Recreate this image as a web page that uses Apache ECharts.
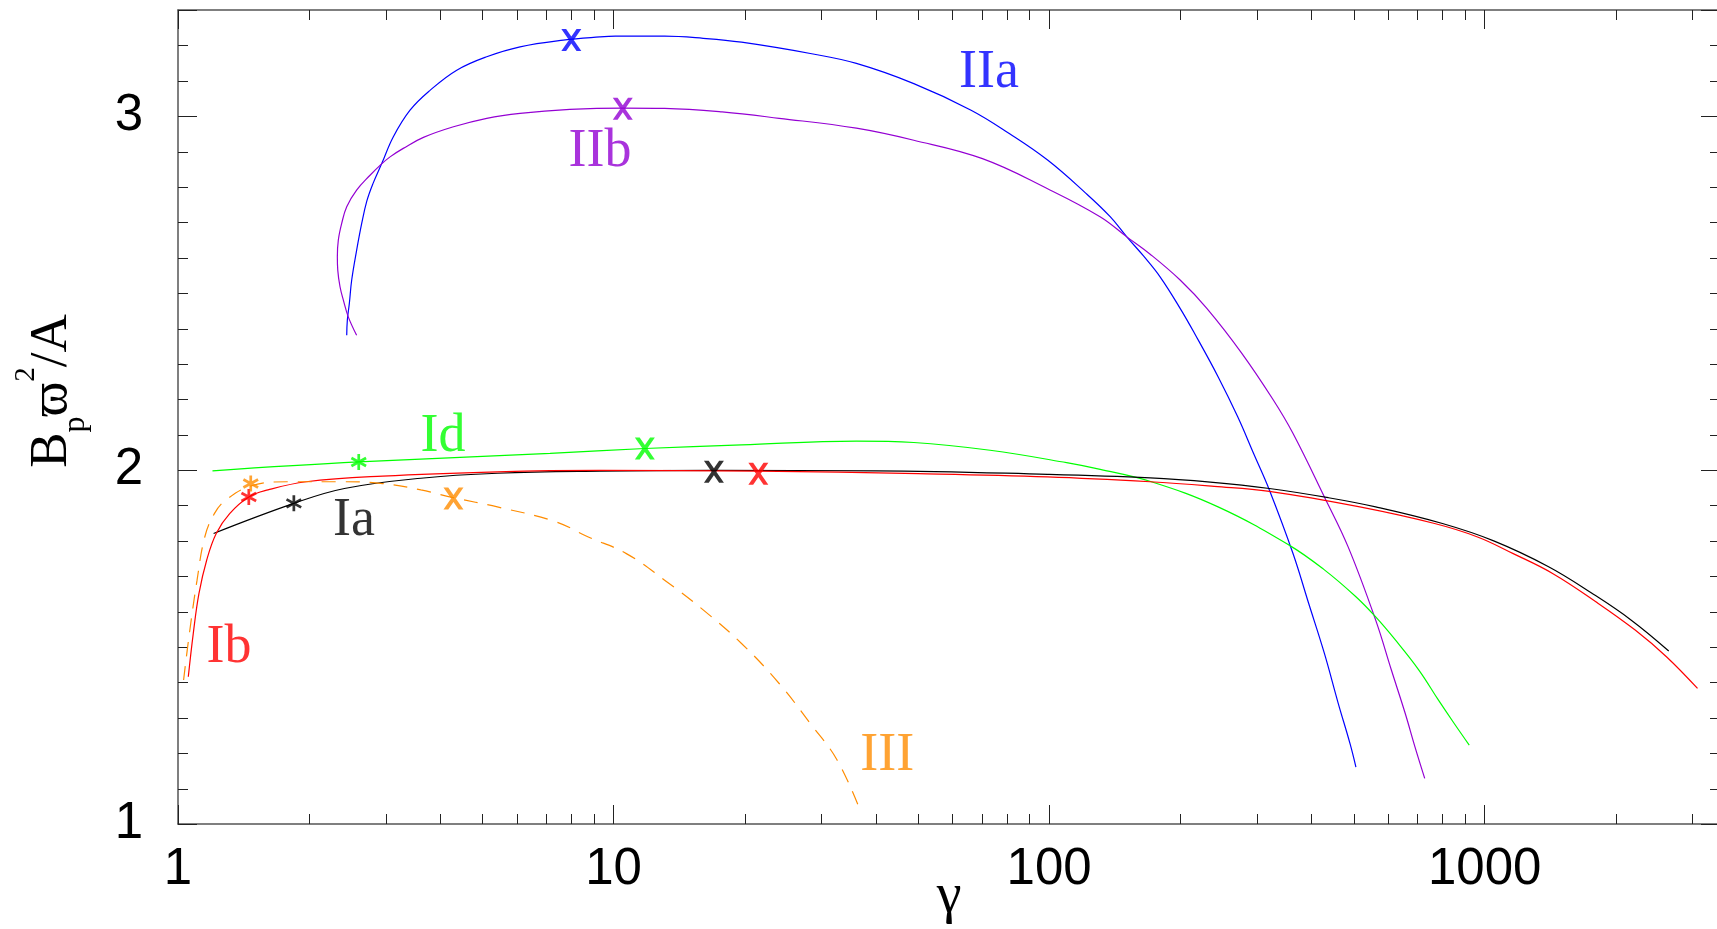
<!DOCTYPE html>
<html><head><meta charset="utf-8">
<script src="https://cdn.jsdelivr.net/npm/echarts@6/dist/echarts.min.js"></script>
<style>html,body{margin:0;padding:0;background:#fff}#c{width:1717px;height:929px}</style>
</head><body><div id="c"></div>
<script>
// ---- axis ranges & ticks ----
const X_MIN = 1, X_MAX = 3470, Y_MIN = 1, Y_MAX = 3.3;
const xTickLabels = [1, 10, 100, 1000];
const yTickLabels = [1, 2, 3];
const xMinorTicks = [2,3,4,5,6,7,8,9,20,30,40,50,60,70,80,90,200,300,400,500,600,700,800,900,2000,3000];
const yMinorTicks = [1.1,1.2,1.3,1.4,1.5,1.6,1.7,1.8,1.9,2.1,2.2,2.3,2.4,2.5,2.6,2.7,2.8,2.9,3.1,3.2];

// ---- curves [gamma, value] ----
const curveIIa = [[2.44,2.381],[2.448,2.424],[2.474,2.471],[2.505,2.537],[2.571,2.621],[2.641,2.697],[2.713,2.760],[2.80,2.808],[2.936,2.866],[3.122,2.942],[3.41,3.017],[3.79,3.073],[4.365,3.130],[5.115,3.168],[6.10,3.196],[7.67,3.215],[9.3,3.224],[10.1,3.226],[13.1,3.226],[16.06,3.220],[19.67,3.209],[28.3,3.177],[36.1,3.149],[48.9,3.092],[66.2,3.017],[81.0,2.951],[99.2,2.876],[121.5,2.782],[138.1,2.716],[150.8,2.659],[164.7,2.605],[179.8,2.546],[199.9,2.457],[215.8,2.386],[244.3,2.264],[271.2,2.150],[294.8,2.047],[320.4,1.944],[362.9,1.765],[394.5,1.623],[428.6,1.482],[461.1,1.341],[490.8,1.227],[506.3,1.161]];
const curveIIb = [[2.571,2.381],[2.46,2.433],[2.397,2.480],[2.355,2.518],[2.327,2.565],[2.322,2.603],[2.334,2.650],[2.376,2.697],[2.44,2.744],[2.571,2.791],[2.76,2.833],[2.91,2.861],[3.068,2.885],[3.29,2.909],[3.66,2.940],[4.29,2.970],[5.115,2.994],[6.10,3.008],[7.94,3.019],[10.5,3.023],[13.1,3.022],[17.75,3.012],[24.0,2.994],[36.1,2.966],[48.9,2.932],[70.3,2.880],[99.2,2.795],[130.9,2.716],[150.8,2.659],[170.6,2.610],[199.9,2.537],[230.2,2.457],[277,2.330],[327.2,2.198],[362.9,2.104],[428.6,1.924],[485.9,1.783],[562.1,1.576],[610.7,1.435],[656.9,1.313],[691.8,1.218],[728.4,1.129]];
const curveId = [[1.2,1.998],[2.6,2.023],[7.15,2.047],[11.8,2.061],[19.67,2.071],[36.1,2.082],[48.9,2.078],[73.2,2.056],[109.7,2.021],[131,2.002],[171.7,1.967],[244.3,1.896],[355.6,1.788],[428.6,1.718],[506.3,1.642],[562.1,1.585],[623.7,1.520],[706.3,1.435],[783.4,1.350],[851.4,1.284],[921.7,1.223]];
const curveIa = [[1.207,1.821],[1.845,1.906],[2.41,1.948],[3.61,1.977],[5.41,1.991],[9.3,1.997],[17.0,1.999],[40,1.998],[99.2,1.988],[170.6,1.978],[234.4,1.966],[320.4,1.948],[437.5,1.922],[562.1,1.896],[800,1.849],[1049,1.800],[1402,1.727],[1763,1.652],[2171,1.576],[2646,1.489]];
const curveIb = [[1.056,1.416],[1.084,1.538],[1.117,1.651],[1.164,1.746],[1.224,1.821],[1.314,1.877],[1.454,1.924],[1.609,1.944],[1.97,1.967],[2.95,1.983],[5.41,1.995],[9.3,1.999],[21.5,1.997],[50,1.990],[99.2,1.981],[170.6,1.967],[239.3,1.954],[320.4,1.940],[516.8,1.896],[767.5,1.849],[963,1.811],[1163,1.764],[1432,1.708],[1800,1.628],[2216,1.548],[2618,1.472],[3081,1.383]];
const curveIII = [[1.03,1.407],[1.062,1.538],[1.106,1.689],[1.152,1.811],[1.212,1.877],[1.287,1.915],[1.469,1.955],[1.78,1.967],[2.41,1.967],[2.95,1.962],[3.61,1.944],[4.29,1.922],[5.41,1.896],[7.33,1.855],[8.75,1.811],[10.7,1.764],[13.1,1.689],[16.06,1.605],[19.67,1.510],[24.0,1.397],[28.3,1.284],[32.6,1.181],[36.8,1.040]];

// ---- marked points ----
const crossIIa = [[8.0,3.215]], crossIIb = [[10.5,3.021]], crossId = [[11.8,2.061]];
const crossIa = [[17.0,1.995]], crossIb = [[21.5,1.990]], crossIII = [[4.29,1.920]];
const starId = [[2.6,2.023]], starIa = [[1.845,1.906]], starIb = [[1.454,1.924]], starIII = [[1.469,1.962]];

// ---- curve name anchors ----
const labelNames = ['IIa','IIb','Id','Ia','Ib','III'];
const labelPos = [[72.8,3.134],[9.31,2.912],[4.06,2.105],[2.536,1.867],[1.31,1.508],[42.5,1.203]];

// ---- styles ----
const COLORS = {IIa:'#0000ff', IIb:'#9400d3', Id:'#00ff00', Ia:'#000000', Ib:'#ff0000', III:'#ff8c00'};
const CROSS = 'path://M0,0 L24,0 L100,100 L76,100 Z M76,0 L100,0 L24,100 L0,100 Z';
const STAR = 'path://M42,0 L58,0 L58,100 L42,100 Z M10.6,17.5 L97.2,67.5 L89.4,82.5 L2.8,32.5 Z M2.8,67.5 L89.4,17.5 L97.2,32.5 L10.6,82.5 Z';

const curves = {IIa:curveIIa, IIb:curveIIb, Id:curveId, Ia:curveIa, Ib:curveIb, III:curveIII};
const crosses = {IIa:crossIIa, IIb:crossIIb, Id:crossId, Ia:crossIa, Ib:crossIb, III:crossIII};
const stars = {Id:starId, Ia:starIa, Ib:starIb, III:starIII};

const series = [];
Object.keys(curves).forEach(k => {
  series.push({type:'line', name:k, data:curves[k], showSymbol:false, smooth:0.4, silent:true,
    lineStyle:{color:COLORS[k], width:1.2, type: k==='III' ? [14,10] : 'solid'}, z:3});
});
Object.keys(crosses).forEach(k => {
  series.push({type:'scatter', data:crosses[k], symbol:CROSS, symbolSize:[20,22], silent:true,
    itemStyle:{color:COLORS[k]}, z:5});
});
Object.keys(stars).forEach(k => {
  series.push({type:'scatter', data:stars[k], symbol:STAR, symbolSize:[16,16], silent:true,
    itemStyle:{color:COLORS[k]}, z:5});
});
series.push({type:'scatter', data:labelPos.map((p,i)=>({value:p, name:labelNames[i],
    label:{color:COLORS[labelNames[i]]}})),
  symbolSize:1, itemStyle:{color:'transparent'}, silent:true, z:6,
  label:{show:true, position:'inside', offset:[0,4], formatter:p=>p.name,
    fontFamily:'Liberation Serif', fontSize:54}});
// minor ticks through axis scales
const tickStyle = {stroke:'#222', lineWidth:1};
series.push({type:'custom', silent:true, clip:false, z:2,
  data:xMinorTicks.map(v=>[v,Y_MIN]),
  renderItem(params, api){
    const v = api.value(0);
    const b = api.coord([v,Y_MIN]), t = api.coord([v,Y_MAX]);
    const x = Math.round(b[0]) + 0.5;
    return {type:'group', children:[
      {type:'line', shape:{x1:x,y1:b[1],x2:x,y2:b[1]-10}, style:tickStyle},
      {type:'line', shape:{x1:x,y1:t[1],x2:x,y2:t[1]+10}, style:tickStyle}]};
  }});
series.push({type:'custom', silent:true, clip:false, z:2,
  data:yMinorTicks.map(v=>[X_MIN,v]),
  renderItem(params, api){
    const v = api.value(1);
    const l = api.coord([X_MIN,v]), r = api.coord([X_MAX,v]);
    const y = Math.round(l[1]) + 0.5;
    return {type:'group', children:[
      {type:'line', shape:{x1:l[0],y1:y,x2:l[0]+10,y2:y}, style:tickStyle},
      {type:'line', shape:{x1:r[0],y1:y,x2:r[0]-10,y2:y}, style:tickStyle}]};
  }});

const axisLine = {show:true, lineStyle:{color:'#555', width:1.5}};
const majorTick = {show:true, inside:true, length:19, lineStyle:{color:'#222', width:1}};
const isDecade = v => { const e = Math.log10(v); return Math.abs(e-Math.round(e))<1e-6 && xTickLabels.includes(Math.round(v)); };

const option = {
  animation:false,
  backgroundColor:'#fff',
  grid:{left:178, top:10, right:-3, bottom:105, containLabel:false, outerBoundsMode:'none'},
  xAxis:[
    {type:'log', logBase:10, min:X_MIN, max:X_MAX, position:'bottom',
     axisLine, axisTick:majorTick, splitLine:{show:false}, minorTick:{show:false},
     axisLabel:{margin:20, fontSize:51, fontFamily:'Liberation Sans', color:'#000',
       formatter:v => isDecade(v) ? String(Math.round(v)) : ''},
     name:'γ', nameLocation:'middle', nameGap:45, nameMoveOverlap:false,
     nameTextStyle:{fontFamily:'Liberation Serif', fontSize:56, color:'#000'}},
    {type:'log', logBase:10, min:X_MIN, max:X_MAX, position:'top',
     axisLine, axisTick:majorTick, axisLabel:{show:false}, splitLine:{show:false}}
  ],
  yAxis:[
    {type:'value', min:Y_MIN, max:Y_MAX, interval:1, position:'left',
     axisLine, axisTick:majorTick, splitLine:{show:false},
     axisLabel:{margin:35, fontSize:51, fontFamily:'Liberation Sans', color:'#000',
       formatter:v => yTickLabels.includes(v) ? String(v) : ''},
     name:'{a|B}{s|p}{a|ϖ}{u|2}{a|/A}', nameLocation:'middle', nameGap:86, nameRotate:90,
     nameMoveOverlap:false,
     nameTextStyle:{color:'#000', padding:[0,0,0,52], rich:{
       a:{fontFamily:'Liberation Serif', fontSize:53, lineHeight:80, color:'#000'},
       s:{fontFamily:'Liberation Serif', fontSize:32, lineHeight:32, verticalAlign:'bottom', color:'#000'},
       u:{fontFamily:'Liberation Serif', fontSize:29, lineHeight:29, verticalAlign:'top', color:'#000'}}}},
    {type:'value', min:Y_MIN, max:Y_MAX, interval:1, position:'right',
     axisLine, axisTick:majorTick, axisLabel:{show:false}, splitLine:{show:false}}
  ],
  series
};
const chart = echarts.init(document.getElementById('c'), null, {renderer:'canvas'});
chart.setOption(option);
</script></body></html>
